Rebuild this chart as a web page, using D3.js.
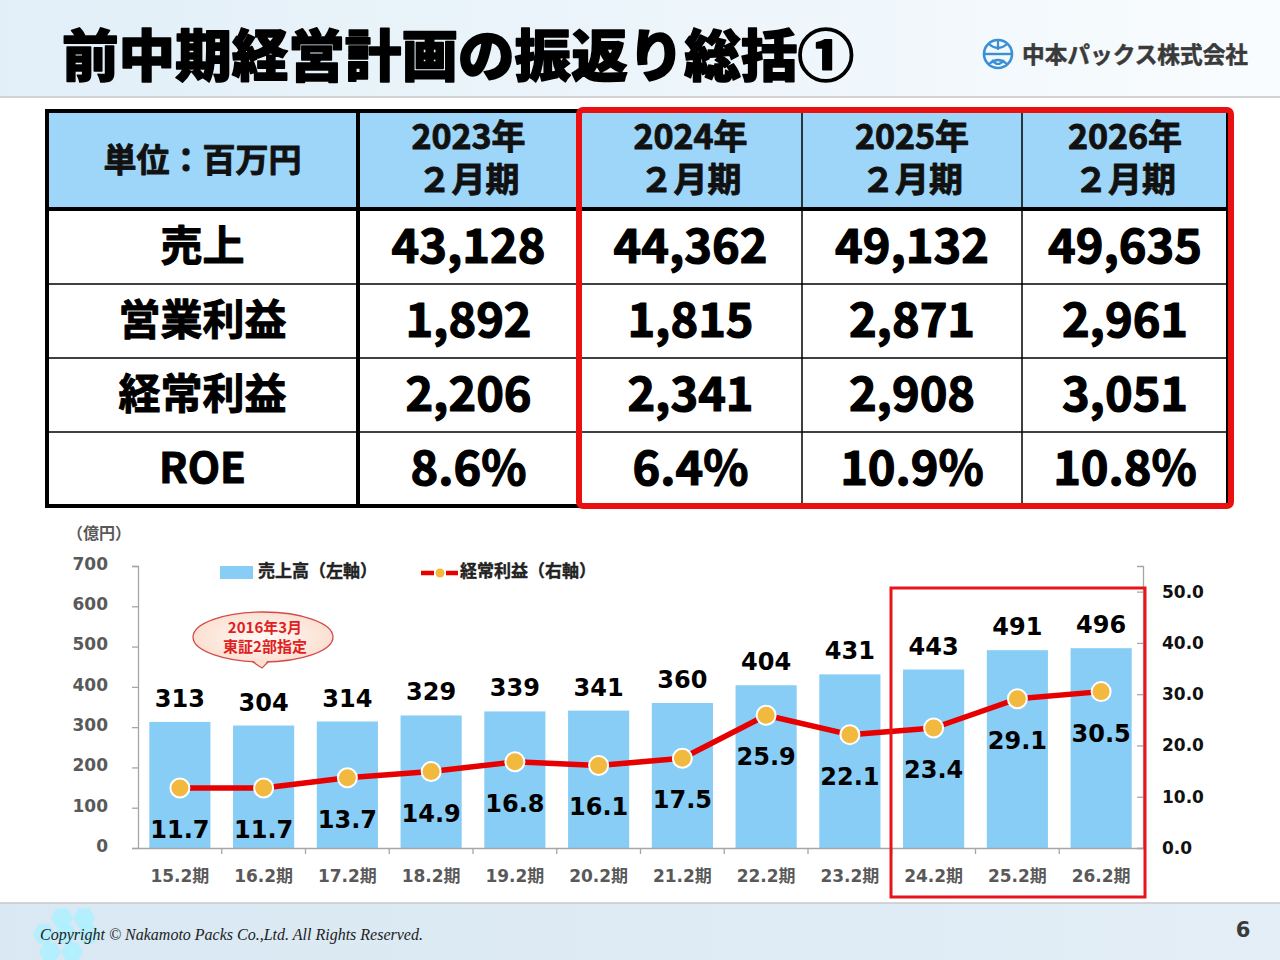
<!DOCTYPE html>
<html><head><meta charset="utf-8">
<script src="https://cdn.jsdelivr.net/npm/d3@7"></script>
<style>
html,body{margin:0;padding:0;background:#fff;}
svg{display:block;}
</style></head>
<body>
<svg id="c" width="1280" height="960"></svg>
<script>
// ---------- DATA ----------
const titleText = "前中期経営計画の振返り総括①";
const companyName = "中本パックス株式会社";
const unitLabel = "単位：百万円";
const tableYears = ["2023年", "2024年", "2025年", "2026年"];
const tablePeriod = "２月期";
const tableRowLabels = ["売上", "営業利益", "経常利益", "ROE"];
const tableSales = ["43,128", "44,362", "49,132", "49,635"];
const tableOperating = ["1,892", "1,815", "2,871", "2,961"];
const tableOrdinary = ["2,206", "2,341", "2,908", "3,051"];
const tableROE = ["8.6%", "6.4%", "10.9%", "10.8%"];

const periods = ["15.2期","16.2期","17.2期","18.2期","19.2期","20.2期","21.2期","22.2期","23.2期","24.2期","25.2期","26.2期"];
const sales = [313, 304, 314, 329, 339, 341, 360, 404, 431, 443, 491, 496];
const ordinaryProfit = [11.7, 11.7, 13.7, 14.9, 16.8, 16.1, 17.5, 25.9, 22.1, 23.4, 29.1, 30.5];
const leftTicks = [0, 100, 200, 300, 400, 500, 600, 700];
const rightTicks = [0, 10, 20, 30, 40, 50];
const legendSales = "売上高（左軸）";
const legendProfit = "経常利益（右軸）";
const unitAxis = "（億円）";
const calloutLines = ["2016年3月", "東証2部指定"];
const copyright = "Copyright © Nakamoto Packs Co.,Ltd. All Rights Reserved.";
const pageNo = "6";

// ---------- SETUP ----------
const svg = d3.select("#c");
const JP = "'Noto Sans CJK JP','Noto Sans',sans-serif";
const NUM = "'DejaVu Sans','Noto Sans CJK JP',sans-serif";
const defs = svg.append("defs");

const g1 = defs.append("linearGradient").attr("id","topbg").attr("x1","0").attr("x2","1").attr("y1","0").attr("y2","0");
g1.append("stop").attr("offset","0").attr("stop-color","#e2eff8");
g1.append("stop").attr("offset","0.6").attr("stop-color","#eef6fb");
g1.append("stop").attr("offset","1").attr("stop-color","#f9fcfe");
const g2 = defs.append("linearGradient").attr("id","footbg").attr("x1","0").attr("x2","1");
g2.append("stop").attr("offset","0").attr("stop-color","#d9e8f3");
g2.append("stop").attr("offset","1").attr("stop-color","#e3eef6");
const g3 = defs.append("radialGradient").attr("id","callbg");
g3.append("stop").attr("offset","0").attr("stop-color","#fffaf6");
g3.append("stop").attr("offset","1").attr("stop-color","#fbe0d2");

// top banner
svg.append("rect").attr("x",0).attr("y",0).attr("width",1280).attr("height",97).attr("fill","url(#topbg)");
svg.append("line").attr("x1",0).attr("x2",1280).attr("y1",97).attr("y2",97).attr("stroke","#d3d3d3").attr("stroke-width",2);
svg.append("text").attr("x",62).attr("y",76).text(titleText)
  .attr("font-family",JP).attr("font-weight",900).attr("font-size",56)
  .attr("textLength",792).attr("lengthAdjust","spacingAndGlyphs")
  .attr("fill","#000").attr("stroke","#000").attr("stroke-width",1.5).attr("stroke-linejoin","round");

// logo
const logo = svg.append("g").attr("transform","translate(998,54)");
logo.append("circle").attr("r",14).attr("fill","none").attr("stroke","#3b8fd6").attr("stroke-width",2.6);
logo.append("line").attr("x1",-14).attr("x2",14).attr("y1",0).attr("y2",0).attr("stroke","#3b8fd6").attr("stroke-width",2.4);
logo.append("path").attr("d","M-9,-10 Q0,-2 9,-10 M-9,10 Q0,2 9,10 M0,-14 L0,-4 M-6,6 Q0,14 6,6").attr("fill","none").attr("stroke","#3b8fd6").attr("stroke-width",2.2);
svg.append("text").attr("x",1022).attr("y",63).text(companyName)
  .attr("font-family",JP).attr("font-weight",700).attr("font-size",23).attr("fill","#3a3a3a")
  .attr("stroke","#3a3a3a").attr("stroke-width",0.5)
  .attr("textLength",226).attr("lengthAdjust","spacingAndGlyphs");

// ---------- TABLE ----------
const colX = [47, 358, 579, 802, 1022, 1228];
const rowY = [111, 209, 284, 358, 432, 506];
const table = svg.append("g");
table.append("rect").attr("x",colX[0]).attr("y",rowY[0]).attr("width",colX[5]-colX[0]).attr("height",rowY[1]-rowY[0]).attr("fill","#9dd6f8");
table.append("rect").attr("x",colX[0]).attr("y",rowY[1]).attr("width",colX[5]-colX[0]).attr("height",rowY[5]-rowY[1]).attr("fill","#fff");
[2,3,4].forEach(i=>{
  table.append("line").attr("x1",colX[0]).attr("x2",colX[5]).attr("y1",rowY[i]).attr("y2",rowY[i]).attr("stroke","#000").attr("stroke-width",1.5);
});
[2,3,4].forEach(i=>{
  table.append("line").attr("x1",colX[i]).attr("x2",colX[i]).attr("y1",rowY[0]).attr("y2",rowY[5]).attr("stroke","#000").attr("stroke-width",1.5);
});
table.append("line").attr("x1",colX[1]).attr("x2",colX[1]).attr("y1",rowY[0]).attr("y2",rowY[5]).attr("stroke","#000").attr("stroke-width",4);
table.append("line").attr("x1",colX[0]).attr("x2",colX[5]).attr("y1",rowY[1]).attr("y2",rowY[1]).attr("stroke","#000").attr("stroke-width",4);
table.append("rect").attr("x",colX[0]).attr("y",rowY[0]).attr("width",colX[5]-colX[0]).attr("height",rowY[5]-rowY[0]).attr("fill","none").attr("stroke","#000").attr("stroke-width",4);

const cx = i => (colX[i]+colX[i+1])/2;
const cy = i => (rowY[i]+rowY[i+1])/2;
const heavy = (sel, w) => sel.attr("stroke", sel.attr("fill")).attr("stroke-width", w).attr("stroke-linejoin","round");
heavy(table.append("text").attr("x",cx(0)).attr("y",cy(0)+12).attr("text-anchor","middle").text(unitLabel)
  .attr("font-family",JP).attr("font-weight",700).attr("font-size",33).attr("fill","#111"), 0.9);
tableYears.forEach((yr,i)=>{
  heavy(table.append("text").attr("x",cx(i+1)).attr("y",149).attr("text-anchor","middle").text(yr)
    .attr("font-family",JP).attr("font-weight",700).attr("font-size",34).attr("fill","#111"), 0.9);
  heavy(table.append("text").attr("x",cx(i+1)).attr("y",192).attr("text-anchor","middle").text(tablePeriod)
    .attr("font-family",JP).attr("font-weight",700).attr("font-size",34).attr("fill","#111"), 0.9);
});
const bodyVals = [tableSales, tableOperating, tableOrdinary, tableROE];
tableRowLabels.forEach((lab,r)=>{
  heavy(table.append("text").attr("x",cx(0)).attr("y",cy(r+1)+14).attr("text-anchor","middle").text(lab)
    .attr("font-family",JP).attr("font-weight",700).attr("font-size",42).attr("fill","#000"), 1);
  bodyVals[r].forEach((v,i)=>{
    heavy(table.append("text").attr("x",cx(i+1)).attr("y",cy(r+1)+16).attr("text-anchor","middle").text(v)
      .attr("font-family",JP).attr("font-weight",700).attr("font-size",47).attr("fill","#000"), 1.2);
  });
});
svg.append("rect").attr("x",579).attr("y",110).attr("width",652).attr("height",396).attr("rx",4)
  .attr("fill","none").attr("stroke","#ea1010").attr("stroke-width",6);

// ---------- CHART ----------
const plotL = 138, plotR = 1143, plotT = 566, plotB = 848;
const x = d3.scaleBand().domain(periods).range([plotL, plotR]).paddingInner(0.27).paddingOuter(0.135);
const yL = d3.scaleLinear().domain([0, 700]).range([plotB, plotT]);
const yR = d3.scaleLinear().domain([0, 55]).range([plotB, plotT]);
const chart = svg.append("g");

chart.selectAll("rect.bar").data(sales).join("rect").attr("class","bar")
  .attr("x",(d,i)=>x(periods[i])).attr("width",x.bandwidth())
  .attr("y",d=>yL(d)).attr("height",d=>plotB-yL(d)).attr("fill","#88cdf6");

const axL = chart.append("g").attr("transform",`translate(${plotL},0)`)
  .call(d3.axisLeft(yL).tickValues(leftTicks).tickSize(6).tickPadding(24).tickFormat(d3.format("d")));
axL.select(".domain").attr("stroke","#a6a6a6").attr("stroke-width",1.3);
axL.selectAll(".tick line").attr("stroke","#a6a6a6").attr("stroke-width",1.3);
axL.selectAll(".tick text").attr("dy","0.2em").attr("font-family",NUM).attr("font-weight",700).attr("font-size",17).attr("fill","#595959");

const axR = chart.append("g").attr("transform",`translate(${plotR},0)`)
  .call(d3.axisLeft(yR).tickValues(rightTicks).tickSize(6).tickFormat(d3.format(".1f")));
axR.select(".domain").attr("stroke","#a6a6a6").attr("stroke-width",1.3);
axR.selectAll(".tick line").attr("stroke","#a6a6a6").attr("stroke-width",1.3);
axR.selectAll(".tick text").attr("x",19).attr("text-anchor","start")
  .attr("font-family",NUM).attr("font-weight",700).attr("font-size",17).attr("fill","#111");

const axB = chart.append("g").attr("transform",`translate(0,${plotB})`)
  .call(d3.axisBottom(x).tickSize(0).tickPadding(22));
axB.select(".domain").attr("stroke","#a6a6a6").attr("stroke-width",1.3);
axB.selectAll(".tick text").attr("font-family",NUM).attr("font-weight",700).attr("font-size",17).attr("fill","#595959");
const stepW = x.step();
chart.selectAll("line.btick").data(periods.slice(1)).join("line").attr("class","btick")
  .attr("x1",d=>x(d)-stepW*0.135).attr("x2",d=>x(d)-stepW*0.135)
  .attr("y1",plotB).attr("y2",plotB+6).attr("stroke","#a6a6a6").attr("stroke-width",1.3);

chart.selectAll("text.bl").data(sales).join("text").attr("class","bl")
  .attr("x",(d,i)=>x(periods[i])+x.bandwidth()/2).attr("y",d=>yL(d)-15)
  .attr("text-anchor","middle").text(d=>d)
  .attr("font-family",NUM).attr("font-weight",700).attr("font-size",24).attr("fill","#000");

const line = d3.line().x((d,i)=>x(periods[i])+x.bandwidth()/2).y(d=>yR(d));
chart.append("path").datum(ordinaryProfit).attr("d",line).attr("fill","none")
  .attr("stroke","#e60000").attr("stroke-width",5.5).attr("stroke-linejoin","round");
chart.selectAll("circle.pt").data(ordinaryProfit).join("circle").attr("class","pt")
  .attr("cx",(d,i)=>x(periods[i])+x.bandwidth()/2).attr("cy",d=>yR(d)).attr("r",9.5)
  .attr("fill","#f2b93f").attr("stroke","#fff").attr("stroke-width",2);
chart.selectAll("text.pl").data(ordinaryProfit).join("text").attr("class","pl")
  .attr("x",(d,i)=>x(periods[i])+x.bandwidth()/2).attr("y",d=>yR(d)+50)
  .attr("text-anchor","middle").text(d=>d3.format(".1f")(d))
  .attr("font-family",NUM).attr("font-weight",700).attr("font-size",24).attr("fill","#000");

svg.append("text").attr("x",67).attr("y",539).text(unitAxis)
  .attr("font-family",JP).attr("font-weight",700).attr("font-size",16).attr("fill","#595959");

// legend
svg.append("rect").attr("x",220).attr("y",566).attr("width",33).attr("height",13).attr("fill","#88cdf6");
svg.append("text").attr("x",258).attr("y",577).text(legendSales)
  .attr("font-family",JP).attr("font-weight",700).attr("font-size",17).attr("fill","#222").attr("stroke","#222").attr("stroke-width",0.4);
svg.append("line").attr("x1",421).attr("x2",458).attr("y1",573).attr("y2",573)
  .attr("stroke","#e60000").attr("stroke-width",4.5).attr("stroke-dasharray","13,6,0,6,13");
svg.append("circle").attr("cx",440).attr("cy",573).attr("r",4.5).attr("fill","#f2b93f");
svg.append("text").attr("x",460).attr("y",577).text(legendProfit)
  .attr("font-family",JP).attr("font-weight",700).attr("font-size",17).attr("fill","#222").attr("stroke","#222").attr("stroke-width",0.4);

// callout
svg.append("path").attr("d","M 250 660 L 262 668 L 270 660")
  .attr("fill","#fbe0d2").attr("stroke","#d34a4a").attr("stroke-width",1.3);
svg.append("ellipse").attr("cx",263).attr("cy",637).attr("rx",70).attr("ry",25)
  .attr("fill","url(#callbg)").attr("stroke","#d34a4a").attr("stroke-width",1.3);
svg.append("path").attr("d","M 251 659 L 262 667 L 269 659 Z").attr("fill","#fbe1d4");
calloutLines.forEach((t,i)=>{
  svg.append("text").attr("x",265).attr("y",633+i*19).attr("text-anchor","middle").text(t)
    .attr("font-family",JP).attr("font-weight",700).attr("font-size",15).attr("fill","#e02020");
});

svg.append("rect").attr("x",891).attr("y",588).attr("width",254).attr("height",309)
  .attr("fill","none").attr("stroke","#e8141b").attr("stroke-width",3);

// ---------- FOOTER ----------
svg.append("rect").attr("x",0).attr("y",903).attr("width",1280).attr("height",57).attr("fill","url(#footbg)");
svg.append("line").attr("x1",0).attr("x2",1280).attr("y1",903).attr("y2",903).attr("stroke","#c9c9c9").attr("stroke-width",1.5);
const hex = (cxh, cyh, r) => d3.range(6).map(k=>[cxh + r*Math.cos(Math.PI/3*k), cyh + r*Math.sin(Math.PI/3*k)]);
[[62,918],[84,918],[44,934],[66,934],[88,934],[50,952],[72,952]].forEach(([hx,hy])=>{
  svg.append("polygon").attr("points",hex(hx,hy,11).map(p=>p.join(",")).join(" ")).attr("fill","#aef0fe").attr("opacity",0.9);
});
svg.append("text").attr("x",40).attr("y",940).text(copyright)
  .attr("font-family","'Liberation Serif','DejaVu Serif',serif").attr("font-style","italic")
  .attr("font-size",16).attr("fill","#222");
svg.append("text").attr("x",1243).attr("y",937).attr("text-anchor","middle").text(pageNo)
  .attr("font-family",NUM).attr("font-weight",700).attr("font-size",21).attr("fill","#3a3a3a");
</script>
</body></html>
